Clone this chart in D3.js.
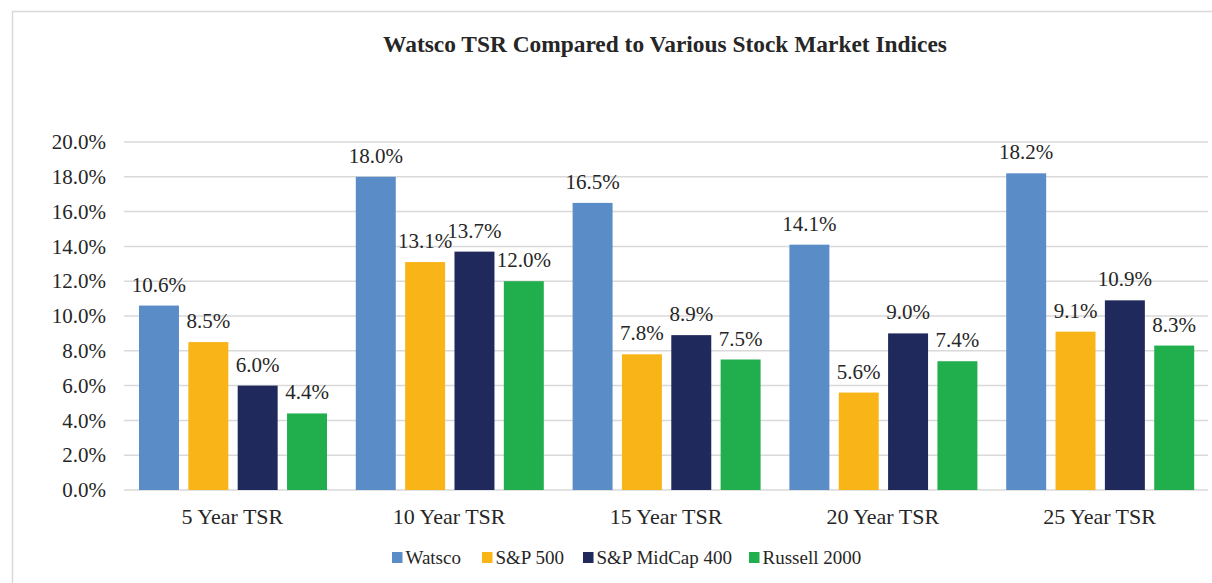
<!DOCTYPE html>
<html><head><meta charset="utf-8">
<script src="https://cdn.jsdelivr.net/npm/d3@7"></script>
<style>body{margin:0;background:#fff;}</style>
</head><body><svg id="c" width="1212" height="583"></svg>
<script>
const categories = ["5 Year TSR","10 Year TSR","15 Year TSR","20 Year TSR","25 Year TSR"];
const seriesNames = ["Watsco","S&P 500","S&P MidCap 400","Russell 2000"];
const watsco = [10.6,18.0,16.5,14.1,18.2];
const sp500 = [8.5,13.1,7.8,5.6,9.1];
const midcap400 = [6.0,13.7,8.9,9.0,10.9];
const russell2000 = [4.4,12.0,7.5,7.4,8.3];
const yTicks = [0,2,4,6,8,10,12,14,16,18,20];
const colors = ["#5A8CC8","#F9B418","#1F295C","#21AF4D"];
const chartTitle = "Watsco TSR Compared to Various Stock Market Indices";

(function(){
const seriesValues = [watsco, sp500, midcap400, russell2000];
const svg = d3.select("#c");
const txt = "#262626";
const FF = "font-family:'Liberation Serif','Times New Roman',Tinos,'DejaVu Serif',serif";

svg.append("rect").attr("x",12.5).attr("y",11.5).attr("width",1212).attr("height",600)
  .attr("fill","none").attr("stroke","#d9d9d9").attr("stroke-width",1.5);

svg.append("text").attr("x",665).attr("y",52).attr("text-anchor","middle").attr("style",FF)
  .attr("font-size",23.4).attr("font-weight","bold").attr("fill",txt).text(chartTitle);

const pL=124, pR=1208, pT=142, pB=490;
const y = d3.scaleLinear().domain([0,20]).range([pB,pT]);
const x0 = d3.scaleBand().domain(categories).range([pL,pR]).padding(0);
const x1 = d3.scaleBand().domain(seriesNames).range([15,203]).paddingInner(0.19).paddingOuter(0);

svg.append("g").selectAll("line").data(yTicks).join("line")
  .attr("x1",pL).attr("x2",pR).attr("y1",d=>y(d)).attr("y2",d=>y(d))
  .attr("stroke","#d9d9d9").attr("stroke-width",1.5);

const yAxis = d3.axisLeft(y).tickValues(yTicks).tickSize(0).tickPadding(0).tickFormat(d=>d.toFixed(1)+"%");
const ya = svg.append("g").attr("transform",`translate(106,0)`).call(yAxis);
ya.select(".domain").remove();
ya.selectAll("text").attr("style",FF).attr("font-size",21).attr("fill",txt).attr("dy","0.32em");

const xAxis = d3.axisBottom(x0).tickSize(0).tickPadding(0);
const xa = svg.append("g").attr("transform",`translate(0,508)`).call(xAxis);
xa.select(".domain").remove();
xa.selectAll("text").attr("style",FF).attr("font-size",22).attr("fill",txt).attr("dy","0.71em");

const groups = svg.append("g").selectAll("g").data(categories).join("g")
  .attr("transform",d=>`translate(${x0(d)},0)`);
groups.each(function(cat,ci){
  const g = d3.select(this);
  seriesNames.forEach((s,si)=>{
    const v = seriesValues[si][ci];
    g.append("rect").attr("x",x1(s)).attr("width",x1.bandwidth())
      .attr("y",y(v)).attr("height",y(0)-y(v)).attr("fill",colors[si]);
    g.append("text").attr("x",x1(s)+x1.bandwidth()/2).attr("y",y(v)-14).attr("style",FF)
      .attr("text-anchor","middle").attr("font-size",21).attr("fill",txt).text(v.toFixed(1)+"%");
  });
});

const legendX = [392,482,583,749];
const lg = svg.append("g");
seriesNames.forEach((s,i)=>{
  lg.append("rect").attr("x",legendX[i]).attr("y",552).attr("width",10.5).attr("height",11).attr("fill",colors[i]);
  lg.append("text").attr("x",legendX[i]+13.5).attr("y",564).attr("style",FF).attr("font-size",19).attr("fill",txt).text(s);
});
})();
</script></body></html>
